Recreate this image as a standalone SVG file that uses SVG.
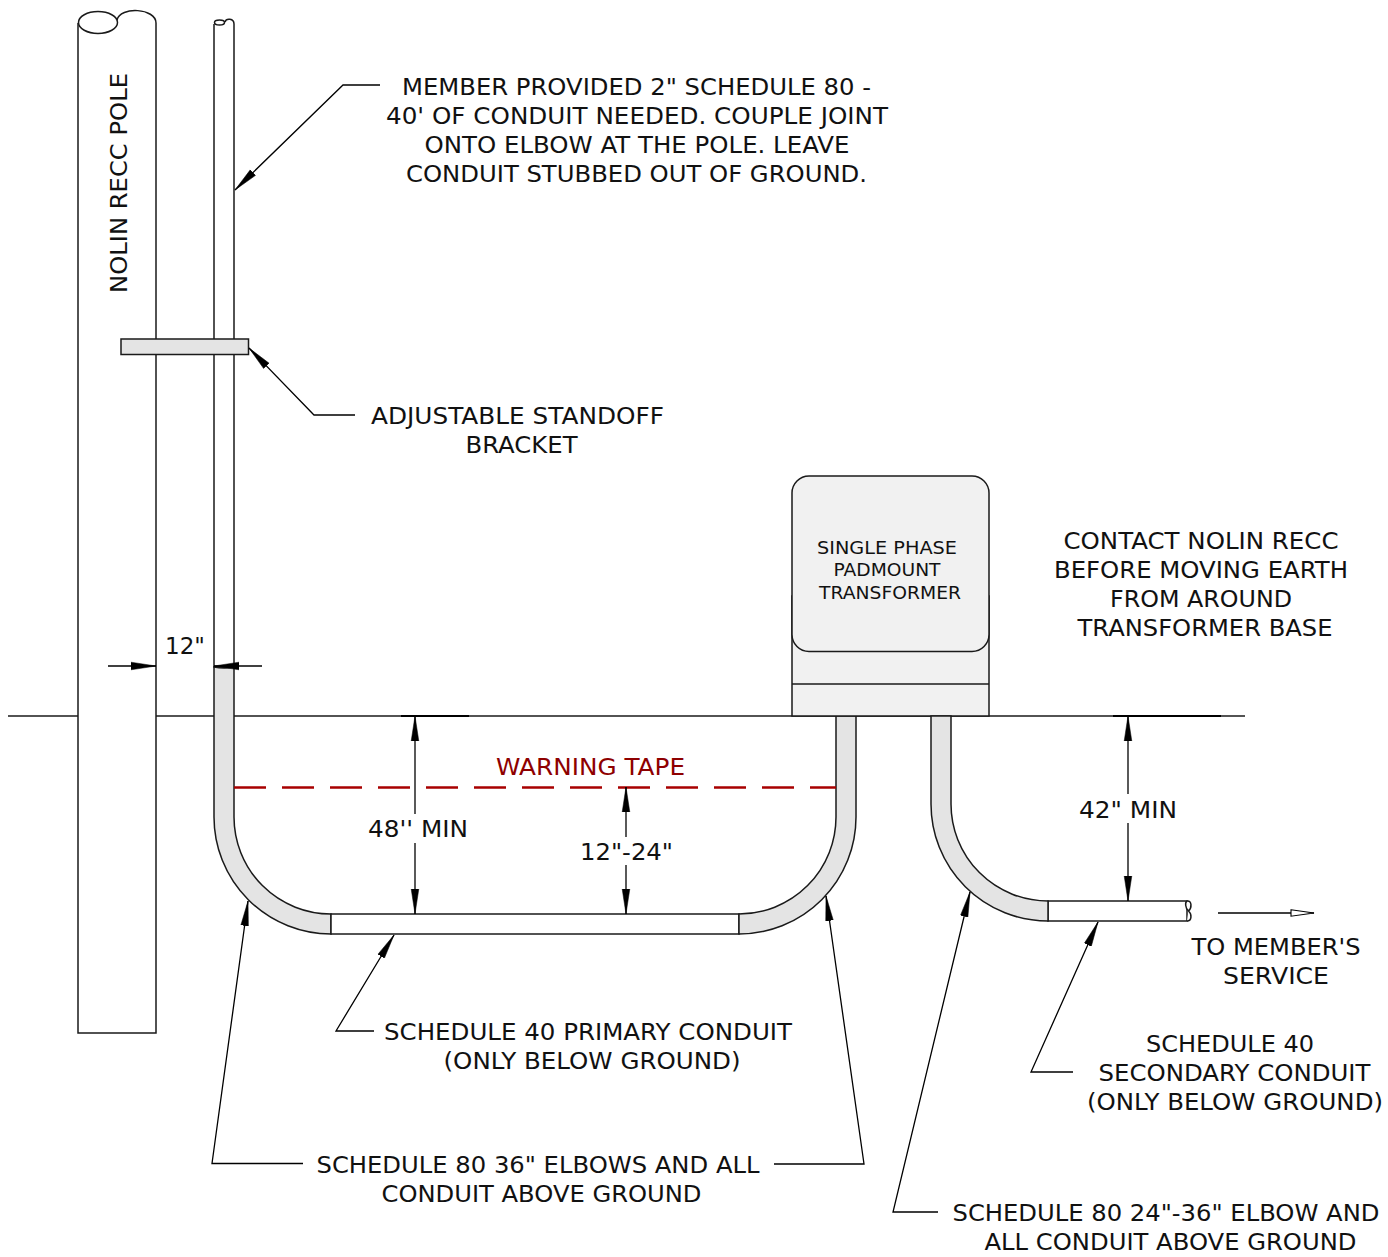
<svg xmlns="http://www.w3.org/2000/svg" width="1388" height="1257" viewBox="0 0 1388 1257">
<style>
.l{fill:none;stroke:#1a1a1a;stroke-width:1.5}
.c{fill:#fff;stroke:#1a1a1a;stroke-width:1.5}
.g{fill:#e4e4e4;stroke:#1a1a1a;stroke-width:1.5}
.t{fill:#f1f1f1;stroke:#1a1a1a;stroke-width:1.5}
.a{fill:none;stroke:#000;stroke-width:1.3}
text{font-family:"DejaVu Sans",Verdana,sans-serif;font-size:23.3px;fill:#111;text-anchor:middle}
</style>
<defs>
<marker id="h" markerUnits="userSpaceOnUse" markerWidth="26" markerHeight="12" refX="25" refY="6" orient="auto"><path d="M0 2.200L25 6L0 9.800Z" fill="#000" stroke="#000" stroke-width=".5"/></marker>
<marker id="o" markerUnits="userSpaceOnUse" markerWidth="26" markerHeight="12" refX="24" refY="6" orient="auto"><path d="M1 2.800L24 6L1 9.200Z" fill="#fff" stroke="#000" stroke-width="1.100"/></marker>
</defs>
<g id="ground"><path class="l" d="M8 716H1245"/><path d="M401 716H469M1113 716H1221" stroke="#000" stroke-width="2" fill="none"/></g>
<g id="pole">
<path d="M78 23V1033H156V23C156 7 117 7 117 22" fill="#fff" stroke="none"/>
<path class="l" d="M78 23V1033H156V354M156 339V23C156 8 120 6 117 20"/>
<ellipse class="c" cx="98" cy="22.500" rx="19.500" ry="11"/>
<text transform="translate(127,183) rotate(-90)" textLength="220" lengthAdjust="spacingAndGlyphs">NOLIN RECC POLE</text>
</g>
<g id="riser">
<path class="c" d="M214 24V667H234V24C234 18 226 18 225 22"/>
<ellipse class="c" cx="219.500" cy="22.500" rx="5" ry="2.500"/>
<path class="g" d="M214 667Q224 669 234 667V817A97 97 0 0 0 331 914V934A117 117 0 0 1 214 817Z"/>
</g>
<g id="bracket"><rect class="t" style="fill:#e4e4e4" x="121" y="339" width="127.500" height="15.500"/></g>
<g id="primary-conduit">
<rect class="c" x="331" y="914" width="408" height="20"/>
<path class="g" d="M739 914A97 97 0 0 0 836 817V716H856V817A117 117 0 0 1 739 934Z"/>
</g>
<g id="transformer">
<rect class="t" x="792" y="596" width="197" height="120"/>
<path class="l" d="M792 684H989"/>
<rect class="t" x="792" y="476" width="197" height="175.500" rx="17"/>
<text style="font-size:18.300px" x="887" y="554" textLength="140" lengthAdjust="spacingAndGlyphs">SINGLE PHASE</text>
<text style="font-size:18.300px" x="887" y="576" textLength="107" lengthAdjust="spacingAndGlyphs">PADMOUNT</text>
<text style="font-size:18.300px" x="890" y="599" textLength="142" lengthAdjust="spacingAndGlyphs">TRANSFORMER</text>
</g>
<g id="secondary-conduit">
<path class="c" d="M1048 901H1187V921H1048Z"/>
<path class="c" d="M1187 901C1192 900 1192 908 1188.500 911C1185 908 1185 902 1187 901M1188.500 911C1192 914 1192 921 1187 921" style="fill:#fff"/>
<path class="g" d="M931 716H951V804A97 97 0 0 0 1048 901V921A117 117 0 0 1 931 804Z"/>
</g>
<g id="warning-tape">
<path d="M234 787.500H836" fill="none" stroke="#a80000" stroke-width="2.500" stroke-dasharray="32 16"/>
<text style="fill:#8e0000" x="590.500" y="775" textLength="189" lengthAdjust="spacingAndGlyphs">WARNING TAPE</text>
</g>
<g id="connectors">
<path class="a" d="M380 85H343L235 190" marker-end="url(#h)"/>
<path class="a" d="M355 415H314L249 348" marker-end="url(#h)"/>
<path class="a" d="M108 666H156" marker-end="url(#h)"/>
<path class="a" d="M262 666H214" marker-end="url(#h)"/>
<path class="a" d="M415 814V716" marker-end="url(#h)"/>
<path class="a" d="M415 843V914" marker-end="url(#h)"/>
<path class="a" d="M626 837V787" marker-end="url(#h)"/>
<path class="a" d="M626 865V914" marker-end="url(#h)"/>
<path class="a" d="M1128 794V716" marker-end="url(#h)"/>
<path class="a" d="M1128 823V901" marker-end="url(#h)"/>
<path class="a" d="M1218 913H1314" marker-end="url(#o)"/>
<path class="a" d="M374 1031H336L394 935" marker-end="url(#h)"/>
<path class="a" d="M303 1163.500H212L248 901" marker-end="url(#h)"/>
<path class="a" d="M774 1164H864L826 896" marker-end="url(#h)"/>
<path class="a" d="M938 1212H893L970 892" marker-end="url(#h)"/>
<path class="a" d="M1073 1072H1031L1098 922" marker-end="url(#h)"/>
</g>
<g id="labels">
<text x="636.500" y="95" textLength="469" lengthAdjust="spacingAndGlyphs">MEMBER PROVIDED 2" SCHEDULE 80 -</text>
<text x="637" y="124" textLength="502" lengthAdjust="spacingAndGlyphs">40' OF CONDUIT NEEDED. COUPLE JOINT</text>
<text x="637" y="153" textLength="425" lengthAdjust="spacingAndGlyphs">ONTO ELBOW AT THE POLE. LEAVE</text>
<text x="636.500" y="182" textLength="461" lengthAdjust="spacingAndGlyphs">CONDUIT STUBBED OUT OF GROUND.</text>
<text x="517.500" y="424" textLength="293" lengthAdjust="spacingAndGlyphs">ADJUSTABLE STANDOFF</text>
<text x="521.500" y="453" textLength="112" lengthAdjust="spacingAndGlyphs">BRACKET</text>
<text x="185" y="654" textLength="40" lengthAdjust="spacingAndGlyphs">12"</text>
<text x="418" y="837" textLength="100" lengthAdjust="spacingAndGlyphs">48'' MIN</text>
<text x="626.500" y="860" textLength="93" lengthAdjust="spacingAndGlyphs">12"-24"</text>
<text x="1128" y="818" textLength="98" lengthAdjust="spacingAndGlyphs">42" MIN</text>
<text x="1201" y="549" textLength="275" lengthAdjust="spacingAndGlyphs">CONTACT NOLIN RECC</text>
<text x="1201" y="578" textLength="294" lengthAdjust="spacingAndGlyphs">BEFORE MOVING EARTH</text>
<text x="1201" y="607" textLength="182" lengthAdjust="spacingAndGlyphs">FROM AROUND</text>
<text x="1205" y="636" textLength="255" lengthAdjust="spacingAndGlyphs">TRANSFORMER BASE</text>
<text x="1276" y="955" textLength="169" lengthAdjust="spacingAndGlyphs">TO MEMBER'S</text>
<text x="1276" y="984" textLength="106" lengthAdjust="spacingAndGlyphs">SERVICE</text>
<text x="588" y="1040" textLength="408" lengthAdjust="spacingAndGlyphs">SCHEDULE 40 PRIMARY CONDUIT</text>
<text x="592" y="1069" textLength="297" lengthAdjust="spacingAndGlyphs">(ONLY BELOW GROUND)</text>
<text x="1230" y="1052" textLength="168" lengthAdjust="spacingAndGlyphs">SCHEDULE 40</text>
<text x="1234.500" y="1081" textLength="272" lengthAdjust="spacingAndGlyphs">SECONDARY CONDUIT</text>
<text x="1235" y="1110" textLength="296" lengthAdjust="spacingAndGlyphs">(ONLY BELOW GROUND)</text>
<text x="538" y="1173" textLength="443" lengthAdjust="spacingAndGlyphs">SCHEDULE 80 36" ELBOWS AND ALL</text>
<text x="541.500" y="1202" textLength="320" lengthAdjust="spacingAndGlyphs">CONDUIT ABOVE GROUND</text>
<text x="1166" y="1221" textLength="427" lengthAdjust="spacingAndGlyphs">SCHEDULE 80 24"-36" ELBOW AND</text>
<text x="1170.500" y="1250" textLength="372" lengthAdjust="spacingAndGlyphs">ALL CONDUIT ABOVE GROUND</text>
</g>
</svg>
